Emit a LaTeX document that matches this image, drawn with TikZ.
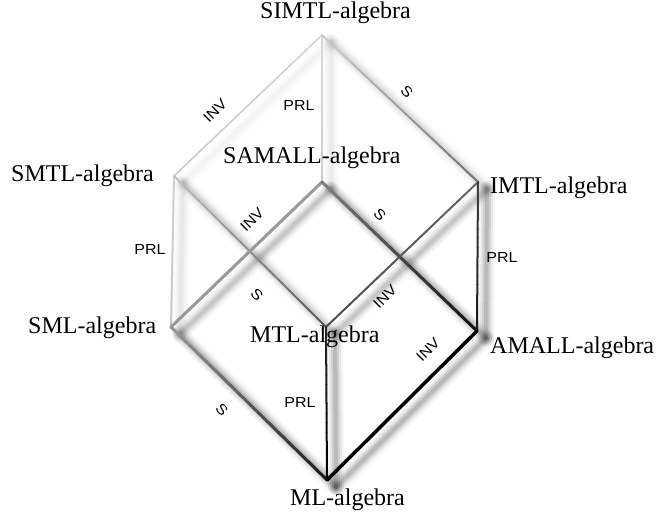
\documentclass[tikz,border=0pt]{standalone}
\usepackage{fontspec}
\setmainfont{Liberation Serif}
\newfontfamily\lblfont{Liberation Sans}[FakeStretch=1.1]
\usetikzlibrary{calc}

\begin{document}
\begin{tikzpicture}[x=1pt,y=-1pt,
  algname/.style={font=\fontsize{24}{28}\selectfont, anchor=base west, inner sep=0pt,
    text height=15pt, text depth=5pt},
  axlabel/.style={font=\lblfont\fontsize{14.5}{16}\selectfont, inner sep=0pt,
    text height=10pt, text depth=0pt},
]
\fill[white] (0,0) rectangle (660,517);
\useasboundingbox (0,0) rectangle (660,517);

% corners of the cube
\coordinate (SIMTL)  at (322,35);
\coordinate (SAMALL) at (322,182);
\coordinate (SMTL)   at (174,176);
\coordinate (IMTL)   at (478,182);
\coordinate (SML)    at (171,327);
\coordinate (MTL)    at (326,327);
\coordinate (AMALL)  at (477,331);
\coordinate (ML)     at (327,480);

% edge list: from / to / start colour / end colour / width / shadow strength
\def\edgelist{
  SIMTL/SMTL/black!18/black!22/1.5/0.15,
  SIMTL/SAMALL/black!15/black!20/2/0.25,
  SIMTL/IMTL/black!20/black!55/2/0.45,
  SMTL/SML/black!18/black!22/2/0.3,
  SMTL/MTL/black!25/black!65/2/0.6,
  SAMALL/SML/black!40/black!40/3/0.8,
  SAMALL/AMALL/black!50/black!95/3/1,
  IMTL/MTL/black!60/black!70/2/0.8,
  IMTL/AMALL/black!75/black!90/2/1,
  SML/ML/black!40/black!90/3/1,
  MTL/ML/black!85/black/2/1,
  AMALL/ML/black/black/3.5/1}

% soft drop shadows
\foreach \ea/\eb/\ca/\cb/\ew/\es in \edgelist {
  \foreach \sw/\so in {16/0.04,12/0.06,8/0.09,4/0.11}{
    \pgfmathsetmacro\sop{\so*\es}
    \draw[line width=\sw pt, black, draw opacity=\sop, line cap=round]
      ($(\ea)+(9,7)$) -- ($(\eb)+(9,7)$);
  }
}

% edges, shaded along their length
\foreach \ea/\eb/\ca/\cb/\ew/\es in \edgelist {
  \colorlet{edgestart}{\ca}
  \colorlet{edgeend}{\cb}
  \foreach \i in {0,...,15}{
    \pgfmathsetmacro\pa{\i/16}
    \pgfmathsetmacro\pb{(\i+1)/16}
    \pgfmathtruncatemacro\pc{100*(\i+0.5)/16}
    \draw[line width=\ew pt, color=edgeend!\pc!edgestart, line cap=round]
      ($(\ea)!\pa!(\eb)$) -- ($(\ea)!\pb!(\eb)$);
  }
}

% algebra names
\node[algname] (tSIMTL)  at (260,18)  {SIMTL-algebra};
\node[algname] (tSAMALL) at (223,163) {SAMALL-algebra};
\node[algname] (tSMTL)   at (11,181)  {SMTL-algebra};
\node[algname] (tIMTL)   at (490,193) {IMTL-algebra};
\node[algname] (tSML)    at (28,333)  {SML-algebra};
\node[algname] (tMTL)    at (250,342) {MTL-algebra};
\node[algname] (tAMALL)  at (490,353) {AMALL-algebra};
\node[algname] (tML)     at (290,505) {ML-algebra};

% axiom labels
\node[axlabel, rotate=45]  (l1)  at (215,111) {INV};
\node[axlabel]             (l2)  at (299,105) {PRL};
\node[axlabel, rotate=-45] (l3)  at (407,92)  {S};
\node[axlabel]             (l4)  at (150,249) {PRL};
\node[axlabel, rotate=45]  (l5)  at (252,220) {INV};
\node[axlabel, rotate=-45] (l6)  at (380,215) {S};
\node[axlabel, rotate=-45] (l7)  at (257,295) {S};
\node[axlabel, rotate=45]  (l8)  at (385,297) {INV};
\node[axlabel]             (l9)  at (502,257) {PRL};
\node[axlabel, rotate=45]  (l10) at (428,350) {INV};
\node[axlabel, rotate=-45] (l11) at (222,410) {S};
\node[axlabel]             (l12) at (300,402) {PRL};
\end{tikzpicture}
\end{document}
